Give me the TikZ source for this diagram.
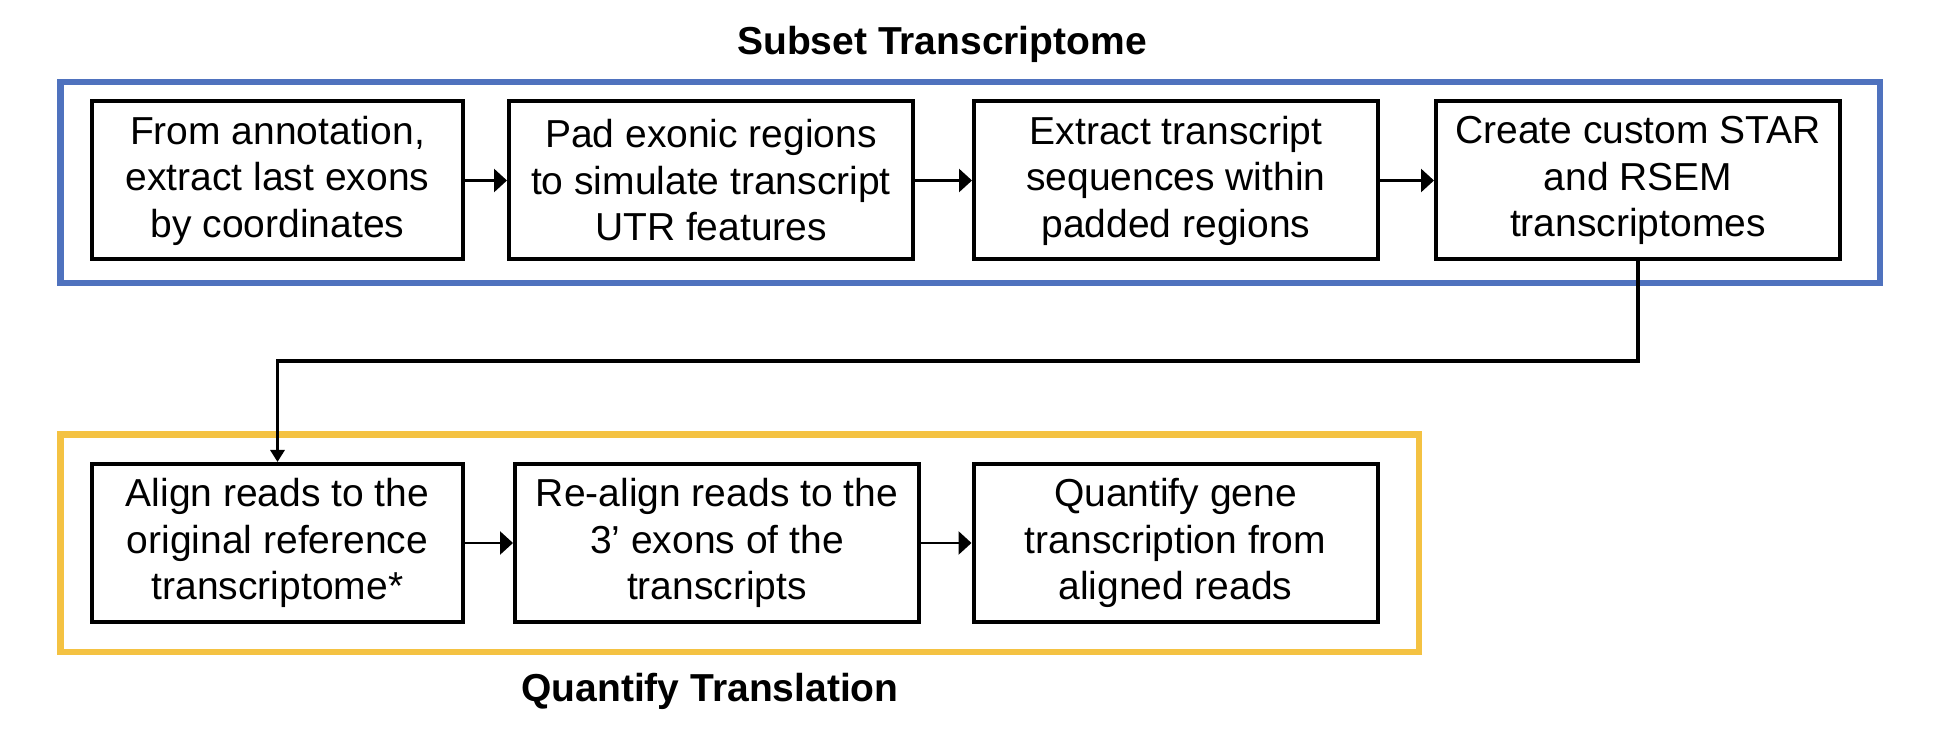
\documentclass[tikz,border=0pt]{standalone}
\usepackage{fontspec}
\setmainfont{Liberation Sans}
\usetikzlibrary{arrows.meta}

\definecolor{subsetblue}{HTML}{4F72BE}
\definecolor{quantgold}{HTML}{F4C242}

\begin{document}
\begin{tikzpicture}[x=0.5pt, y=-0.5pt,
  stage/.style={draw, line width=2pt, inner sep=0pt, align=center,
    minimum width=202pt, minimum height=79pt,
    font=\fontsize{19.5}{23.25}\selectfont},
  frame/.style={line width=3.25pt},
  heading/.style={anchor=base, inner sep=0pt,
    font=\fontsize{19.5}{23.25}\selectfont\bfseries},
  link/.style={line width=1.4pt, -{Triangle[length=6.5pt, width=11.5pt]}},
  drop/.style={line width=1.7pt, -{Triangle[length=6pt, width=7pt]}}]%
  \useasboundingbox (0, 0) rectangle (1940, 732);
  \draw[frame, subsetblue] (60.5, 82) rectangle (1880, 283);
  \draw[frame, quantgold] (60.5, 434.5) rectangle (1419, 652);
  \node[heading] (subsettitle) at (942, 55) {Subset Transcriptome};
  \node[heading] (quanttitle) at (710, 701) {Quantify Translation};
  % subset transcriptome row
  \node[stage, minimum width=185.5pt] (lastexons) at (277.5, 180.5)
    {From annotation,\\extract last exons\\by coordinates};
  \node[stage] (padregions) at (711, 180.5)
    {Pad exonic regions\\to simulate transcript\\UTR features};
  \node[stage] (extractseq) at (1176, 180.5)
    {Extract transcript\\sequences within\\padded regions};
  \node[stage] (customref) at (1638, 180.5)
    {Create custom STAR\\and RSEM\\transcriptomes};
  % quantify translation row
  \node[stage, minimum width=185.5pt] (alignorig) at (277.5, 543)
    {Align reads to the\\original reference\\transcriptome*};
  \node[stage] (realign) at (717, 543)
    {Re-align reads to the\\3’ exons of the\\transcripts};
  \node[stage] (quantgene) at (1175.5, 543)
    {Quantify gene\\transcription from\\aligned reads};
  \draw[link] (lastexons) -- (padregions);
  \draw[link] (padregions) -- (extractseq);
  \draw[link] (extractseq) -- (customref);
  \draw[link] (alignorig) -- (realign);
  \draw[link] (realign) -- (quantgene);
  \coordinate (elbow) at (1638, 361);
  \draw[drop]
  (customref) -- (elbow) -| (alignorig)
  ;
\end{tikzpicture}
\end{document}
